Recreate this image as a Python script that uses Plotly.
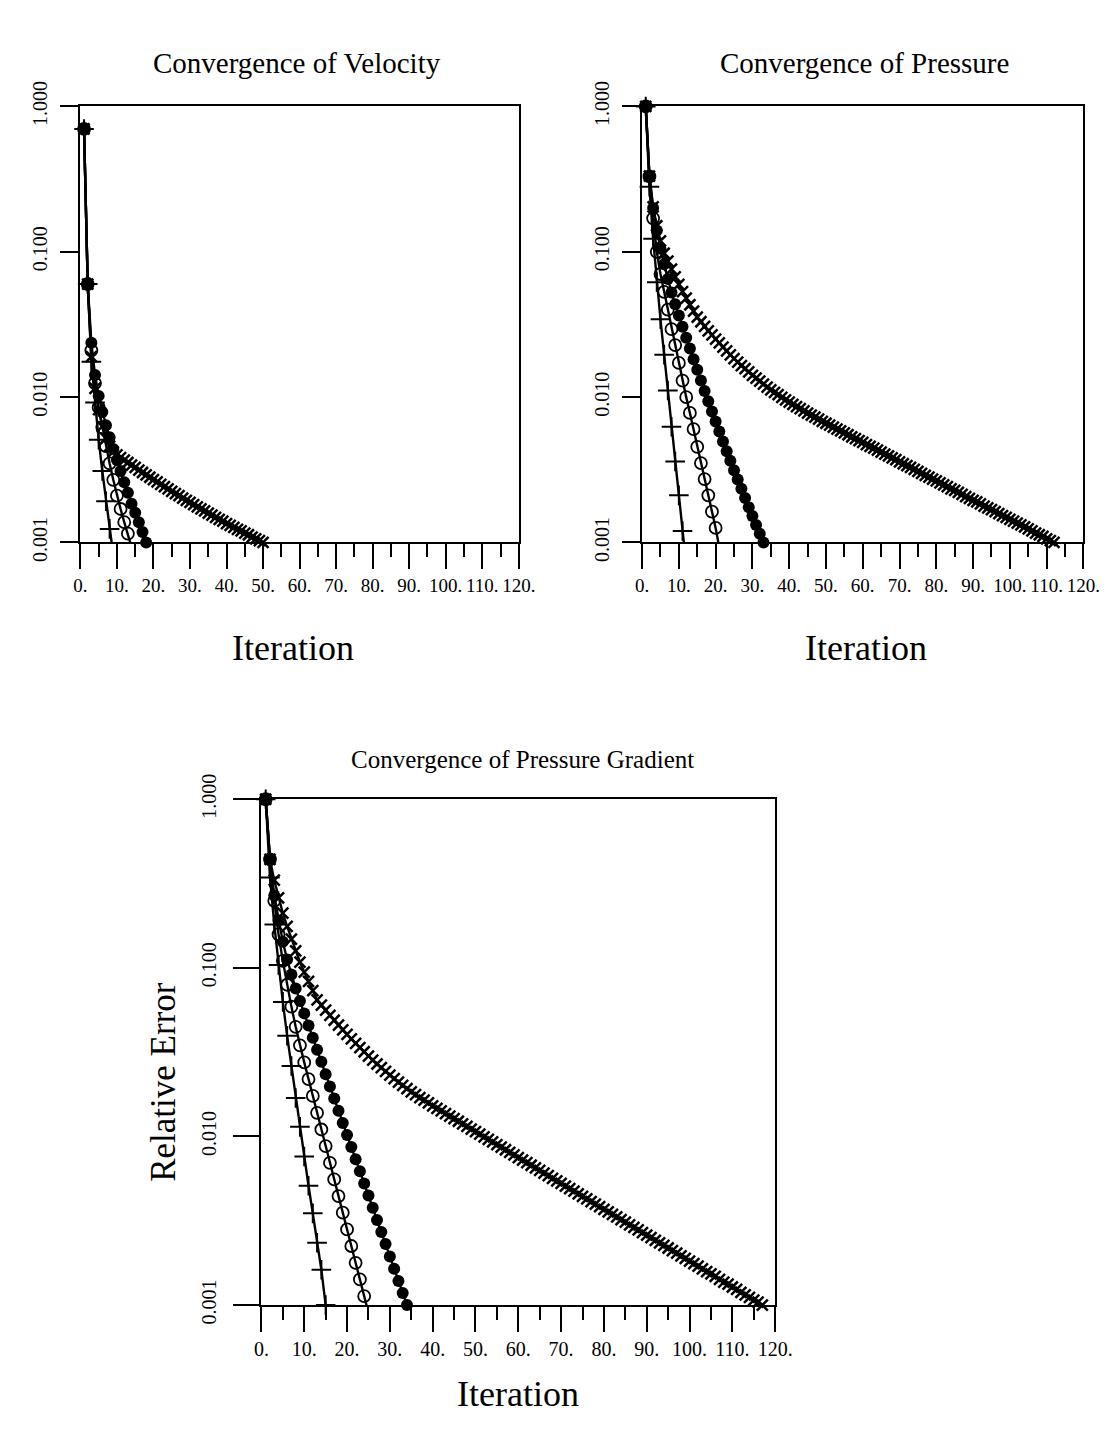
import plotly.graph_objects as go

# ---------------- data ----------------
ITER_TICKS = [0, 10, 20, 30, 40, 50, 60, 70, 80, 90, 100, 110, 120]
ITER_LABELS = ["0.", "10.", "20.", "30.", "40.", "50.", "60.", "70.", "80.", "90.", "100.", "110.", "120."]
ERR_TICKS = [0.001, 0.01, 0.1, 1.0]
ERR_LABELS = ["0.001", "0.010", "0.100", "1.000"]

# Convergence of Velocity
VEL_PLUS = [0.7, 0.06, 0.0175, 0.0092, 0.0051, 0.0031, 0.00192, 0.00124, 0.00082]
VEL_OPEN = [0.7, 0.06, 0.021, 0.0125, 0.0085, 0.0062, 0.0046, 0.0035, 0.0027, 0.0021,
            0.0017, 0.00138, 0.00115, 0.00093]
VEL_FILLED = [0.7, 0.06, 0.0237, 0.0142, 0.0102, 0.0079, 0.0064, 0.0053, 0.0044, 0.0037,
              0.0031, 0.0026, 0.0022, 0.00185, 0.0016, 0.00138, 0.00118, 0.001]
VEL_CROSS = [0.7, 0.06, 0.019, 0.0115, 0.0082, 0.0063, 0.0052, 0.0046, 0.0042, 0.0040,
             0.00384, 0.00369, 0.00355, 0.00341, 0.00328, 0.00315, 0.00303, 0.00292, 0.00281, 0.00271,
             0.00261, 0.00251, 0.00242, 0.00234, 0.00225, 0.00217, 0.0021, 0.00202, 0.00195, 0.00189,
             0.00182, 0.00176, 0.0017, 0.00165, 0.00159, 0.00154, 0.00149, 0.00144, 0.0014, 0.00135,
             0.00131, 0.00127, 0.00123, 0.0012, 0.00116, 0.00113, 0.00109, 0.00106, 0.00103, 0.001]

# Convergence of Pressure
PRES_PLUS = [1.0, 0.28, 0.123, 0.0618, 0.0343, 0.0196, 0.0111, 0.00625, 0.00361, 0.00211,
             0.0012, 0.0007]
PRES_OPEN = [1.0, 0.33, 0.17, 0.1, 0.0703, 0.053, 0.04, 0.0294, 0.0228, 0.0172,
             0.013, 0.01, 0.00778, 0.00603, 0.00455, 0.00352, 0.00273, 0.00211, 0.00163, 0.00126,
             0.00092]
PRES_FILLED = [1.0, 0.33, 0.2, 0.14, 0.105, 0.082, 0.065, 0.0525, 0.0435, 0.0364,
               0.0305, 0.0256, 0.0216, 0.0182, 0.0154, 0.013, 0.011, 0.00937, 0.00797, 0.0068,
               0.0058, 0.00496, 0.00425, 0.00365, 0.00314, 0.00271, 0.00234, 0.00202, 0.00175, 0.00152,
               0.00132, 0.00115, 0.001]
PRES_CROSS = [1.0, 0.331, 0.204, 0.151, 0.119, 0.0977, 0.0861, 0.0759, 0.0671, 0.0596,
              0.0532, 0.0479, 0.0432, 0.0391, 0.0355, 0.033, 0.0307, 0.0286, 0.0268, 0.0251,
              0.0236, 0.0221, 0.0208, 0.0195, 0.0184, 0.0174, 0.0165, 0.0157, 0.0149, 0.0141,
              0.0135, 0.0129, 0.0123, 0.0117, 0.0112, 0.0108, 0.0104, 0.00995, 0.00957, 0.00923,
              0.00891, 0.00861, 0.00832, 0.00804, 0.00776, 0.00752, 0.00728, 0.00705, 0.00682, 0.00661,
              0.00641, 0.00622, 0.00603, 0.00585, 0.00568, 0.00551, 0.00533, 0.00518, 0.00502, 0.00488,
              0.00472, 0.00458, 0.00445, 0.00432, 0.00419, 0.00406, 0.00394, 0.00382, 0.00371, 0.00359,
              0.00348, 0.00338, 0.00328, 0.00318, 0.00308, 0.00299, 0.0029, 0.00282, 0.00273, 0.00265,
              0.00257, 0.00249, 0.00242, 0.00234, 0.00228, 0.00221, 0.00214, 0.00207, 0.00201, 0.00195,
              0.0019, 0.00184, 0.00178, 0.00173, 0.00168, 0.00163, 0.00158, 0.00153, 0.00149, 0.00144,
              0.0014, 0.00136, 0.00132, 0.00128, 0.00124, 0.0012, 0.00116, 0.00113, 0.0011, 0.00106,
              0.00103, 0.001]

# Convergence of Pressure Gradient
GRAD_PLUS = [1.0, 0.344, 0.181, 0.104, 0.0628, 0.0396, 0.0262, 0.0169, 0.0114, 0.0076,
             0.0051, 0.0035, 0.00234, 0.00162, 0.001]
GRAD_OPEN = [1.0, 0.44, 0.25, 0.158, 0.11, 0.0794, 0.0589, 0.0447, 0.0347, 0.0275,
             0.0219, 0.0174, 0.0138, 0.011, 0.00877, 0.00698, 0.00556, 0.00443, 0.00353, 0.00281,
             0.00224, 0.00178, 0.00142, 0.00113, 0.0009]
GRAD_FILLED = [1.0, 0.44, 0.269, 0.191, 0.143, 0.112, 0.0912, 0.0755, 0.0635, 0.0537,
               0.0455, 0.0385, 0.0327, 0.0277, 0.0234, 0.0198, 0.0168, 0.0142, 0.012, 0.0102,
               0.00865, 0.00733, 0.00621, 0.00526, 0.00446, 0.00378, 0.0032, 0.00271, 0.0023, 0.00194,
               0.00164, 0.00139, 0.00118, 0.001]
GRAD_CROSS = [1.0, 0.44, 0.331, 0.26, 0.211, 0.176, 0.148, 0.126, 0.108, 0.0944,
              0.0832, 0.0733, 0.0646, 0.0601, 0.0561, 0.0523, 0.0489, 0.0458, 0.0429, 0.0403,
              0.0379, 0.0357, 0.0336, 0.0318, 0.03, 0.0284, 0.0269, 0.0256, 0.0243, 0.0231,
              0.022, 0.021, 0.0201, 0.0192, 0.0184, 0.0177, 0.017, 0.0164, 0.0158, 0.0152,
              0.01468, 0.01417, 0.01368, 0.0132, 0.01274, 0.01231, 0.01188, 0.01147, 0.01107, 0.01068,
              0.01031, 0.00995, 0.00961, 0.00928, 0.00895, 0.00864, 0.00834, 0.00805, 0.00777, 0.0075,
              0.00724, 0.00699, 0.00675, 0.00651, 0.00629, 0.00607, 0.00586, 0.00565, 0.00546, 0.00527,
              0.00508, 0.00491, 0.00474, 0.00457, 0.00441, 0.00426, 0.00411, 0.00397, 0.00383, 0.0037,
              0.00357, 0.00345, 0.00333, 0.00321, 0.0031, 0.00299, 0.00289, 0.00279, 0.00269, 0.0026,
              0.00251, 0.00242, 0.00234, 0.00226, 0.00218, 0.0021, 0.00203, 0.00196, 0.00189, 0.00182,
              0.00176, 0.0017, 0.00164, 0.00158, 0.00153, 0.00148, 0.00142, 0.00137, 0.00133, 0.00128,
              0.00124, 0.00119, 0.00115, 0.00111, 0.00107, 0.00104, 0.001]

FONT = "Liberation Serif"
W, H = 1119, 1451

# marker styles per series
STYLES = {
    "cross": dict(symbol="x-thin", size=11, line=dict(width=2.5, color="black"), color="black"),
    "plus": dict(symbol="cross-thin", size=14, line=dict(width=2, color="black"), color="black"),
    "open": dict(symbol="circle-open", size=12, line=dict(width=1.8, color="black"), color="black"),
    "filled": dict(symbol="circle", size=12, line=dict(width=0, color="black"), color="black"),
}

PANELS = [
    ("", [("cross", VEL_CROSS), ("plus", VEL_PLUS), ("open", VEL_OPEN), ("filled", VEL_FILLED)]),
    ("2", [("cross", PRES_CROSS), ("plus", PRES_PLUS), ("open", PRES_OPEN), ("filled", PRES_FILLED)]),
    ("3", [("cross", GRAD_CROSS), ("plus", GRAD_PLUS), ("open", GRAD_OPEN), ("filled", GRAD_FILLED)]),
]

fig = go.Figure()
for suffix, series in PANELS:
    for kind, vals in series:
        xs = list(range(1, len(vals) + 1))
        mk = dict(STYLES[kind])
        mk["opacity"] = [1 if v >= 0.001 else 0 for v in vals]
        fig.add_trace(go.Scatter(
            x=xs, y=vals, mode="lines+markers",
            line=dict(color="black", width=2.4),
            marker=mk, cliponaxis=False, showlegend=False,
            xaxis="x" + suffix, yaxis="y" + suffix,
        ))


def px_dom(a, b):
    return [a / W, b / W]


def py_dom(top, bottom):
    return [1 - bottom / H, 1 - top / H]


def xaxis_cfg(domain, anchor, fs):
    return dict(
        domain=domain, anchor=anchor, range=[0, 120],
        tickmode="array", tickvals=ITER_TICKS, ticktext=ITER_LABELS, tickangle=0,
        ticks="outside", ticklen=25, tickwidth=2, tickcolor="black",
        minor=dict(dtick=5, tick0=0, ticks="outside", ticklen=13, tickwidth=2, tickcolor="black"),
        showline=True, linewidth=2, linecolor="black", mirror=True,
        showgrid=False, zeroline=False,
        tickfont=dict(family=FONT, size=fs, color="black"),
    )


def yaxis_cfg(domain, anchor, ticklen, standoff):
    return dict(
        domain=domain, anchor=anchor, type="log", range=[-3, 0],
        tickmode="array", tickvals=ERR_TICKS, ticktext=ERR_LABELS, tickangle=-90,
        ticks="outside", ticklen=ticklen, tickwidth=2, tickcolor="black",
        ticklabelstandoff=standoff,
        showline=True, linewidth=2, linecolor="black", mirror=True,
        showgrid=False, zeroline=False,
        tickfont=dict(family=FONT, size=20, color="black"),
    )


top_y = py_dom(83, 533)
bot_y = py_dom(798, 1320)

fig.update_layout(
    width=W, height=H,
    margin=dict(l=0, r=0, t=0, b=0),
    paper_bgcolor="white", plot_bgcolor="white",
    xaxis=xaxis_cfg(px_dom(75, 523), "y", 19),
    yaxis=yaxis_cfg(top_y, "x", 18, 5),
    xaxis2=xaxis_cfg(px_dom(649, 1100), "y2", 19),
    yaxis2=yaxis_cfg(top_y, "x2", 18, 5),
    xaxis3=xaxis_cfg(px_dom(260, 785), "y3", 20),
    yaxis3=yaxis_cfg(bot_y, "x3", 26, 9),
)

ANNOTS = [
    ("Convergence of Velocity", 296, 38, 29, 0),
    ("Convergence of Pressure", 876, 38, 29, 0),
    ("Convergence of Pressure Gradient", 527, 757, 25, 0),
    ("Iteration", 292, 642, 36, 0),
    ("Iteration", 878, 642, 36, 0),
    ("Iteration", 522, 1412, 36, 0),
    ("Relative Error", 160, 1090, 35, -90),
]
for text, x, y, fs, ang in ANNOTS:
    fig.add_annotation(
        text=text, x=x / W, y=1 - y / H, xref="paper", yref="paper",
        xanchor="center", yanchor="middle", showarrow=False, textangle=ang,
        font=dict(family=FONT, size=fs, color="black"),
    )

fig.write_html("out.html")
